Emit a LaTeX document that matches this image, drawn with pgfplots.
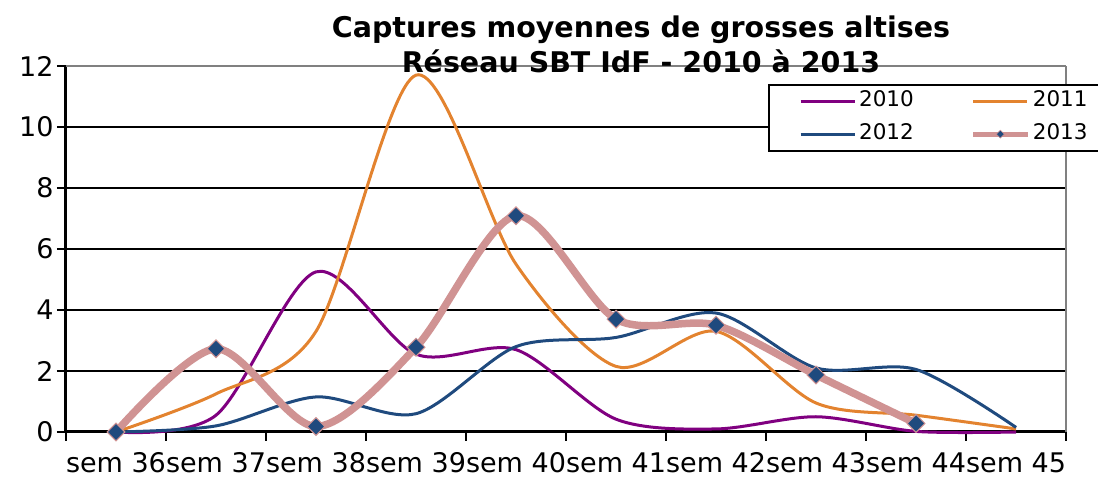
\documentclass[border=0pt]{standalone}
\usepackage{pgfplots}
\pgfplotsset{compat=1.18}
\usepackage{fontspec}
\setmainfont{DejaVu Sans}
\definecolor{c2010}{HTML}{800080}
\definecolor{c2011}{HTML}{E3832F}
\definecolor{c2012}{HTML}{1F4A7E}
\definecolor{c2013}{HTML}{D09393}
\definecolor{mk}{HTML}{1F4A7E}
\pgfplotsset{
  leg13/.style={legend image code/.code={\draw[mark repeat=2,mark phase=2,##1, line width=5pt, mark options={rotate=45, fill=mk, draw=c2013, line width=0.5pt, mark size=2.8pt}] plot coordinates {(0pt,0pt) (27pt,0pt) (54pt,0pt)};}},
}
\begin{document}
\begin{tikzpicture}[x=1pt,y=1pt]
\useasboundingbox (0,0) rectangle (1098,478);
\begin{axis}[
  at={(66pt,46pt)}, anchor=south west,
  scale only axis, width=1000pt, height=366pt,
  xmin=-0.5, xmax=9.5, ymin=0, ymax=12,
  clip=false,
  axis lines*=left,
  axis line style={line width=3pt, black},
  xtick={-0.5,0.5,...,9.5}, xticklabels={},
  extra x ticks={0,1,2,3,4,5,6,7,8,9},
  extra x tick labels={sem 36,sem 37,sem 38,sem 39,sem 40,sem 41,sem 42,sem 43,sem 44,sem 45},
  extra x tick style={major tick length=0pt, xticklabel style={yshift=-17pt}},
  ytick={0,2,...,10},
  extra y ticks={12},
  extra y tick style={grid style={draw=gray, line width=2.5pt}},
  ymajorgrids,
  grid style={black, line width=2.8pt},
  tick align=outside,
  major tick length=9pt,
  tick style={black, line width=2.8pt},
  tick label style={font=\fontsize{27}{30}\selectfont},
  /pgf/number format/assume math mode=true,
  legend columns=2,
  legend style={at={(0.702,0.952)}, anchor=north west, draw=black, line width=2.2pt,
    font=\fontsize{21.5}{25}\selectfont,
    nodes={inner sep=0pt, text height=16pt, text depth=5pt},
    column sep=3pt, row sep=12pt,
    /tikz/every even column/.append style={column sep=57pt},
    inner xsep=30pt, inner ysep=6pt},
  legend cell align=left,
  legend image code/.code={\draw[#1] (0pt,0pt) -- (54pt,0pt);},
]
\addplot[c2010, line width=3pt, smooth] coordinates {
 (0,0) (1,0.55) (2,5.25) (3,2.55) (4,2.7) (5,0.42) (6,0.1) (7,0.5) (8,0.02) (9,0)};
\addlegendentry{2010}
\addplot[c2011, line width=3pt, smooth] coordinates {
 (0,0) (1,1.25) (2,3.3) (3,11.7) (4,5.5) (5,2.15) (6,3.3) (7,0.95) (8,0.55) (9,0.1)};
\addlegendentry{2011}
\addplot[c2012, line width=3pt, smooth] coordinates {
 (0,0) (1,0.2) (2,1.15) (3,0.6) (4,2.8) (5,3.1) (6,3.9) (7,2.1) (8,2.05) (9,0.15)};
\addlegendentry{2012}
\addplot[c2013, line width=7.5pt, smooth, mark=square*,
  mark options={rotate=45, fill=mk, draw=c2013, line width=1pt, mark size=6.3pt},
  leg13]
 coordinates {
 (0,0) (1,2.73) (2,0.18) (3,2.78) (4,7.09) (5,3.7) (6,3.5) (7,1.87) (8,0.28)};
\addlegendentry{2013}
\draw[gray, line width=2.5pt] (rel axis cs:1,0) -- (rel axis cs:1,1);
\end{axis}
\node[anchor=base, font=\bfseries\fontsize{28.5}{32}\selectfont] at (641,440) {Captures moyennes de grosses altises};
\node[anchor=base, font=\bfseries\fontsize{28.5}{32}\selectfont] at (641,405) {Réseau SBT IdF - 2010 à 2013};
\end{tikzpicture}
\end{document}
